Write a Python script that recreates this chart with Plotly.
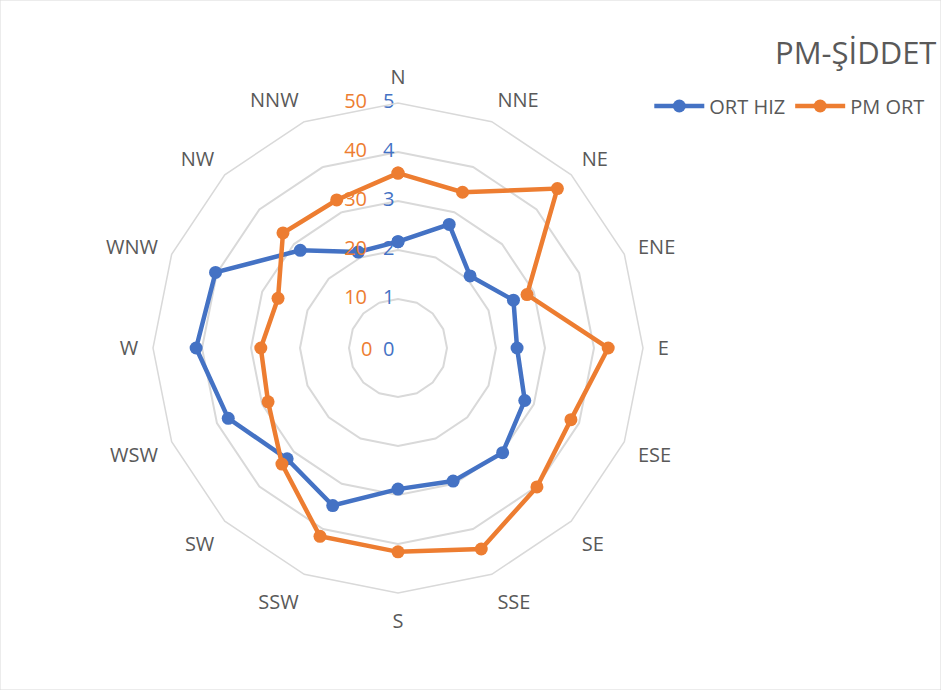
import plotly.graph_objects as go

directions = ["N", "NNE", "NE", "ENE", "E", "ESE", "SE", "SSE",
              "S", "SSW", "SW", "WSW", "W", "WNW", "NW", "NNW"]
ort_hiz = [2.17, 2.73, 2.08, 2.55, 2.43, 2.80, 3.02, 2.94,
           2.88, 3.48, 3.20, 3.75, 4.12, 4.03, 2.82, 2.12]
pm_ort = [35.7, 34.4, 46.0, 28.5, 42.9, 38.2, 40.1, 44.4,
          41.6, 41.6, 33.5, 28.7, 28.0, 26.5, 33.2, 32.7]

hiz_ticks = [0, 1, 2, 3, 4, 5]
pm_ticks = [0, 10, 20, 30, 40, 50]

BLUE = "#4472C4"
ORANGE = "#ED7D31"
GRID = "#D9D9D9"
TXT = "#595959"
FONT = "Open Sans"

fig = go.Figure()
fig.add_trace(go.Scatterpolar(
    r=ort_hiz + ort_hiz[:1], theta=directions + directions[:1],
    mode="lines+markers", name="ORT HIZ",
    line=dict(color=BLUE, width=4.5), marker=dict(size=13, color=BLUE),
    subplot="polar"))
# blue radial tick labels (non-zero), drawn on the polar scale along the N axis
fig.add_trace(go.Scatterpolar(
    r=hiz_ticks[1:], theta=["N"] * (len(hiz_ticks) - 1), text=[str(v) for v in hiz_ticks[1:]],
    mode="markers+text", textposition="middle left", cliponaxis=False,
    marker=dict(size=4, color="rgba(0,0,0,0)"),
    textfont=dict(size=20, color=BLUE, family=FONT),
    showlegend=False, hoverinfo="skip", subplot="polar"))
fig.add_trace(go.Scatterpolar(
    r=pm_ort + pm_ort[:1], theta=directions + directions[:1],
    mode="lines+markers", name="PM ORT",
    line=dict(color=ORANGE, width=4.5), marker=dict(size=13, color=ORANGE),
    subplot="polar2"))
# orange radial tick labels (non-zero) on the secondary scale
fig.add_trace(go.Scatterpolar(
    r=pm_ticks[1:], theta=["N"] * (len(pm_ticks) - 1), text=[str(v) for v in pm_ticks[1:]],
    mode="markers+text", textposition="middle left", cliponaxis=False,
    marker=dict(size=48, color="rgba(0,0,0,0)"),
    textfont=dict(size=20, color=ORANGE, family=FONT),
    showlegend=False, hoverinfo="skip", subplot="polar2"))

dom = dict(x=[(398 - 245) / 941, (398 + 245) / 941],
           y=[(342 - 245) / 690, (342 + 245) / 690])
cx = (dom["x"][0] + dom["x"][1]) / 2
cy = (dom["y"][0] + dom["y"][1]) / 2

fig.update_layout(
    width=941, height=690,
    margin=dict(l=0, r=0, t=0, b=0),
    paper_bgcolor="white",
    font=dict(family=FONT, color=TXT),
    polar=dict(
        domain=dom, bgcolor="rgba(0,0,0,0)", gridshape="linear",
        angularaxis=dict(direction="clockwise", rotation=90,
                         categoryorder="array", categoryarray=directions,
                         showgrid=False, showline=True, linecolor=GRID, linewidth=1.5,
                         ticks="outside", ticklen=10, tickcolor="rgba(0,0,0,0)",
                         tickfont=dict(size=20, color=TXT, family=FONT)),
        radialaxis=dict(range=[0, 5], tickvals=hiz_ticks, angle=90,
                        showticklabels=False, showline=False, ticks="",
                        gridcolor=GRID, gridwidth=1.5),
    ),
    polar2=dict(
        domain=dom, bgcolor="rgba(0,0,0,0)", gridshape="linear",
        angularaxis=dict(direction="clockwise", rotation=90,
                         categoryorder="array", categoryarray=directions,
                         showgrid=False, showline=False, showticklabels=False, ticks=""),
        radialaxis=dict(range=[0, 50], tickvals=pm_ticks, angle=90,
                        showticklabels=False, showline=False, ticks="", showgrid=False),
    ),
    legend=dict(orientation="h", x=0.69, y=1 - 106 / 690, xanchor="left", yanchor="middle",
                font=dict(size=20, color=TXT, family=FONT), itemwidth=50,
                bgcolor="rgba(0,0,0,0)"),
    annotations=[
        dict(text="PM-ŞİDDET", x=0.997, y=1 - 52 / 690, xref="paper", yref="paper",
             xanchor="right", yanchor="middle", showarrow=False,
             font=dict(size=31, color=TXT, family=FONT)),
        # zero tick labels at the chart centre
        dict(text=str(hiz_ticks[0]), x=cx, y=cy, xref="paper", yref="paper",
             xanchor="right", yanchor="middle", xshift=-2, showarrow=False,
             font=dict(size=20, color=BLUE, family=FONT)),
        dict(text=str(pm_ticks[0]), x=cx, y=cy, xref="paper", yref="paper",
             xanchor="right", yanchor="middle", xshift=-24, showarrow=False,
             font=dict(size=20, color=ORANGE, family=FONT)),
    ],
    shapes=[dict(type="rect", xref="paper", yref="paper", x0=0, y0=0, x1=1, y1=1,
                 line=dict(color=GRID, width=1))],
)

fig.write_html("out.html", config={"displayModeBar": False},
               post_script="document.body.style.margin='0';")
